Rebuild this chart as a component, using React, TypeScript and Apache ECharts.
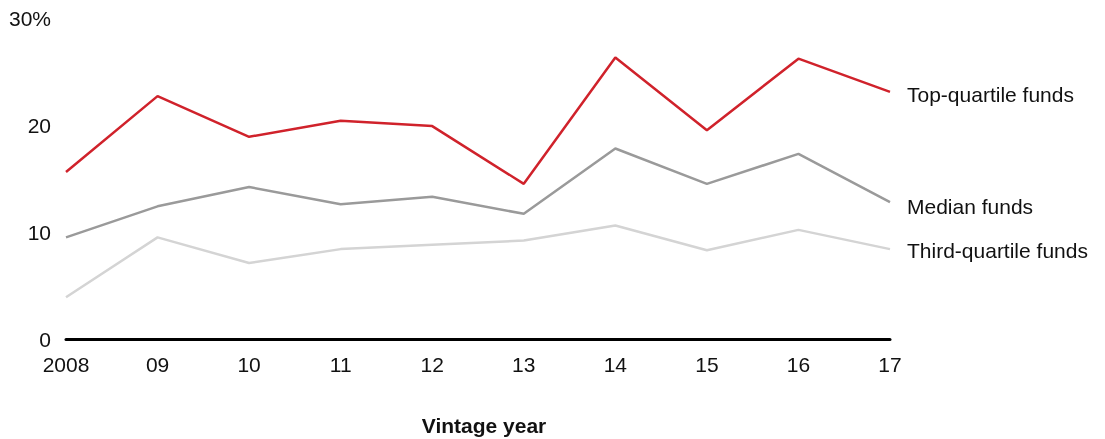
import React, { useEffect, useRef } from "react";
import * as echarts from "echarts";

const years = ["2008", "09", "10", "11", "12", "13", "14", "15", "16", "17"];
const topQuartile = [15.6, 22.7, 18.9, 20.4, 19.9, 14.5, 26.3, 19.5, 26.2, 23.1];
const median = [9.5, 12.4, 14.2, 12.6, 13.3, 11.7, 17.8, 14.5, 17.3, 12.8];
const thirdQuartile = [3.9, 9.5, 7.1, 8.4, 8.8, 9.2, 10.6, 8.3, 10.2, 8.4];
const seriesNames = ["Top-quartile funds", "Median funds", "Third-quartile funds"];
const yTicks = [0, 10, 20, 30];

const FONT = "Liberation Sans, Arial, sans-serif";
const FS = 21;

export default function App() {
  const ref = useRef<HTMLDivElement>(null);
  useEffect(() => {
    if (!ref.current) return;
    const chart = echarts.init(ref.current, null, { renderer: "svg" });
    const mk = (name: string, data: number[], color: string, dy: number) => ({
      name,
      type: "line",
      data,
      symbol: "none",
      lineStyle: { color, width: 2.5 },
      itemStyle: { color },
      endLabel: {
        show: true,
        formatter: name,
        color: "#111",
        fontSize: FS,
        fontFamily: FONT,
        distance: 17,
        offset: [0, dy],
      },
    });
    chart.setOption({
      animation: false,
      grid: { left: 66, right: 215, top: 18, bottom: 100, containLabel: false },
      xAxis: {
        type: "category",
        data: years,
        boundaryGap: false,
        axisLine: { show: true, lineStyle: { color: "#000", width: 3 } },
        axisTick: { show: false },
        axisLabel: { color: "#111", fontSize: FS, fontFamily: FONT, margin: 15 },
        splitLine: { show: false },
      },
      yAxis: {
        type: "value",
        min: yTicks[0],
        max: yTicks[yTicks.length - 1],
        interval: 10,
        axisLine: { show: false },
        axisTick: { show: false },
        splitLine: { show: false },
        axisLabel: {
          color: "#111",
          fontSize: FS,
          fontFamily: FONT,
          margin: 15,
          formatter: (v: number) => (v === 30 ? "30%" : String(v)),
        },
      },
      graphic: [
        {
          type: "text",
          x: 484,
          y: 425,
          style: {
            text: "Vintage year",
            fontSize: FS,
            fontWeight: "bold",
            fontFamily: FONT,
            fill: "#111",
            align: "center",
            verticalAlign: "middle",
          },
        },
      ],
      series: [
        mk(seriesNames[0], topQuartile, "#d0222b", 3),
        mk(seriesNames[1], median, "#9a9a9a", 4),
        mk(seriesNames[2], thirdQuartile, "#d4d4d4", 1),
      ],
    });
    return () => chart.dispose();
  }, []);
  return (
    <div
      ref={ref}
      style={{ position: "fixed", left: 0, top: 0, width: 1105, height: 439 }}
    />
  );
}
